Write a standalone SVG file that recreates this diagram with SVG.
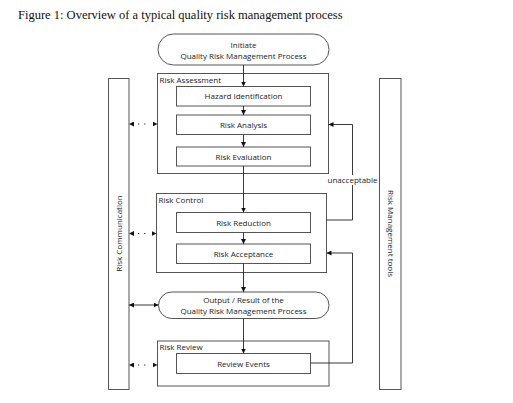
<svg xmlns="http://www.w3.org/2000/svg" width="513" height="403" viewBox="0 0 513 403">
<style>
.bx{fill:#fff;stroke:#555;stroke-width:1}
.ct{fill:none;stroke:#555;stroke-width:1}
.t{font-family:"Open Sans","Noto Sans",sans-serif;font-size:8px;fill:#222;text-anchor:middle}
.tl{font-family:"Open Sans","Noto Sans",sans-serif;font-size:8px;fill:#222}
.ln{fill:none;stroke:#222;stroke-width:0.9}
.dot{fill:none;stroke:#222;stroke-width:1.2;stroke-dasharray:0 9 1.2 5 1.2 40}
</style>
<defs>
<marker id="ah" viewBox="0 0 10 10" refX="10" refY="5" markerWidth="5" markerHeight="5" markerUnits="userSpaceOnUse" orient="auto-start-reverse">
<path d="M0,0 L10,5 L0,10 z" fill="#111"/>
</marker>
</defs>
<rect width="513" height="403" fill="#fff"/>
<text x="18" y="19" style="font-family:'Liberation Serif','Times New Roman',serif;font-size:12.5px;fill:#111">Figure 1: Overview of a typical quality risk management process</text>

<g id="risk-communication">
<rect class="bx" x="108.5" y="78.5" width="20.5" height="311"/>
<text class="t" transform="translate(121.5,233.5) rotate(-90)">Risk Communication</text>
</g>
<g id="risk-management-tools">
<rect class="bx" x="379.5" y="78.5" width="21.5" height="311"/>
<text class="t" transform="translate(387.5,233.5) rotate(90)">Risk Management tools</text>
</g>

<g id="initiate">
<rect class="bx" x="158" y="34" width="171" height="31" rx="15.5"/>
<text class="t" x="243.5" y="47.5">Initiate</text>
<text class="t" x="243.5" y="58.5">Quality Risk Management Process</text>
</g>

<g id="risk-assessment">
<rect class="bx" x="157.5" y="73.5" width="171" height="100"/>
<text class="tl" x="159.5" y="82.5">Risk Assessment</text>
</g>
<g id="hazard-identification">
<rect class="bx" x="176.5" y="86.5" width="134" height="19.5"/>
<text class="t" x="243.5" y="99">Hazard Identification</text>
</g>
<g id="risk-analysis">
<rect class="bx" x="176.5" y="115" width="134" height="19.5"/>
<text class="t" x="243.5" y="127.5">Risk Analysis</text>
</g>
<g id="risk-evaluation">
<rect class="bx" x="176.5" y="147" width="134" height="19"/>
<text class="t" x="243.5" y="159.5">Risk Evaluation</text>
</g>

<g id="risk-control">
<rect class="bx" x="156.5" y="193.5" width="170" height="79"/>
<text class="tl" x="158.5" y="202.5">Risk Control</text>
</g>
<g id="risk-reduction">
<rect class="bx" x="176.5" y="212.5" width="134" height="20"/>
<text class="t" x="243.5" y="225.5">Risk Reduction</text>
</g>
<g id="risk-acceptance">
<rect class="bx" x="176.5" y="244" width="134" height="19.5"/>
<text class="t" x="243.5" y="256.5">Risk Acceptance</text>
</g>

<g id="output">
<rect class="bx" x="158.5" y="292" width="170.5" height="26.5" rx="13.25"/>
<text class="t" x="243.5" y="303">Output / Result of the</text>
<text class="t" x="243.5" y="314">Quality Risk Management Process</text>
</g>

<g id="risk-review">
<rect class="bx" x="157.5" y="341" width="171.5" height="45"/>
<text class="tl" x="159.5" y="350">Risk Review</text>
</g>
<g id="review-events">
<rect class="bx" x="176.5" y="353.5" width="134" height="20"/>
<text class="t" x="243.5" y="366.5">Review Events</text>
</g>

<g id="connectors">
<line class="ln" x1="243.5" y1="65" x2="243.5" y2="86.5" marker-end="url(#ah)"/>
<line class="ln" x1="243.5" y1="106" x2="243.5" y2="115" marker-end="url(#ah)"/>
<line class="ln" x1="243.5" y1="134.5" x2="243.5" y2="147" marker-end="url(#ah)"/>
<line class="ln" x1="243.5" y1="166" x2="243.5" y2="212.5" marker-end="url(#ah)"/>
<line class="ln" x1="243.5" y1="232.5" x2="243.5" y2="244" marker-end="url(#ah)"/>
<line class="ln" x1="243.5" y1="263.5" x2="243.5" y2="292" marker-end="url(#ah)"/>
<line class="ln" x1="243.5" y1="318.5" x2="243.5" y2="353.5" marker-end="url(#ah)"/>
<polyline class="ln" points="326.5,220 352.5,220 352.5,124.5 328.5,124.5" marker-end="url(#ah)"/>
<polyline class="ln" points="310.5,363 352.5,363 352.5,253 326.5,253" marker-end="url(#ah)"/>
<rect x="327" y="175" width="51" height="10" fill="#fff"/>
<text class="t" x="352.5" y="182.5">unacceptable</text>
<line class="dot" x1="129" y1="124" x2="157.5" y2="124" marker-start="url(#ah)" marker-end="url(#ah)"/>
<line class="dot" x1="129" y1="233.5" x2="156.5" y2="233.5" marker-start="url(#ah)" marker-end="url(#ah)"/>
<line class="ln" x1="129" y1="305" x2="158.5" y2="305" marker-start="url(#ah)" marker-end="url(#ah)"/>
<line class="dot" x1="129" y1="365" x2="157.5" y2="365" marker-start="url(#ah)" marker-end="url(#ah)"/>
</g>
</svg>
